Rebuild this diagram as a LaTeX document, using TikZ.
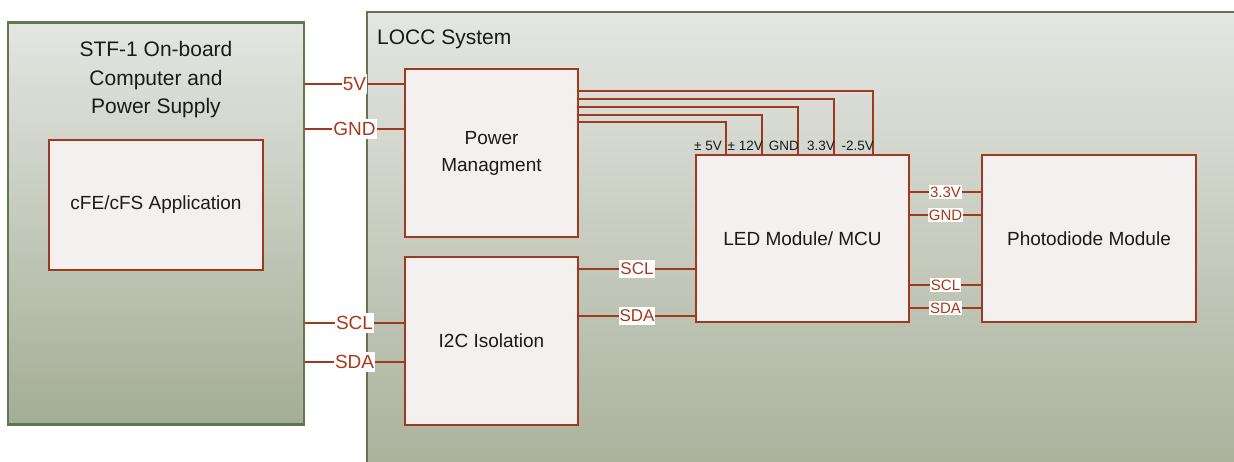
\documentclass[tikz,border=0pt]{standalone}
\usepackage{fontspec}
\setmainfont{Liberation Sans}
\definecolor{redl}{HTML}{9E3A20}
\definecolor{redt}{HTML}{A83A1C}
\definecolor{greenb}{HTML}{627650}
\definecolor{boxfill}{HTML}{F4F0F0}
\definecolor{gtop}{HTML}{E4E6E2}
\definecolor{gbot}{HTML}{A4AD95}
\definecolor{txt}{HTML}{1A1A1A}
\tikzset{
  group/.style={draw=greenb, line width=2.4pt, top color=gtop, bottom color=gbot, inner sep=0pt},
  block/.style={draw=redl, line width=2.2pt, fill=boxfill, align=center, inner sep=0pt,
     text=txt, font=\fontsize{19}{27}\selectfont},
  wire/.style={draw=redl, line width=2pt},
  lbl/.style={fill=white, text=redt, inner xsep=1pt, inner ysep=3pt, font=\fontsize{19}{21}\selectfont},
  lblm/.style={fill=white, text=redt, inner xsep=1pt, inner ysep=3pt, font=\fontsize{17}{19}\selectfont},
  lbls/.style={fill=white, text=redt, inner xsep=1pt, inner ysep=2pt, font=\fontsize{15}{17}\selectfont},
  toplbl/.style={text=txt, inner sep=0pt, anchor=base east, font=\fontsize{13.5}{15}\selectfont},
}
\begin{document}
\begin{tikzpicture}[x=1pt,y=-1pt]
\useasboundingbox (0,0) rectangle (1234,462);
\clip (0,0) rectangle (1234,462);
\fill[white] (0,0) rectangle (1234,462);
% outer groups
\node[group, minimum width=296pt, minimum height=402pt] (stf) at (156,223.5) {};
\node[group, anchor=north west, minimum width=900pt, minimum height=500pt] (locc) at (366,11) {};
\node[text=txt, anchor=base west, font=\fontsize{21}{24}\selectfont, inner sep=0pt] (locct) at (377,45) {LOCC System};
\node[text=txt, align=center, font=\fontsize{21}{28.5}\selectfont, inner sep=0pt] (stft) at (156,80) {STF-1 On-board\\Computer and\\Power Supply};
% blocks
\node[block, minimum width=214pt, minimum height=130pt] (cfe) at (156,205) {cFE/cFS Application};
\node[block, minimum width=173pt, minimum height=168pt] (pm) at (491.5,153) {Power\\Managment};
\node[block, minimum width=173pt, minimum height=168pt] (i2c) at (491.5,341) {I2C Isolation};
\node[block, minimum width=213pt, minimum height=167pt] (led) at (802.5,238.5) {LED Module/ MCU};
\node[block, minimum width=214pt, minimum height=167pt] (pd) at (1089,238.5) {Photodiode Module};
% left connections
\coordinate (a5v) at ([yshift=-16pt]pm.north west);
\coordinate (agnd) at ([yshift=-61pt]pm.north west);
\coordinate (ascl) at ([yshift=-67pt]i2c.north west);
\coordinate (asda) at ([yshift=-106pt]i2c.north west);
\draw[wire] (a5v -| stf.east) -- (a5v) node[lbl, pos=0.5] (l5v) {5V};
\draw[wire] (agnd -| stf.east) -- (agnd) node[lbl, pos=0.5] (lgnd) {GND};
\draw[wire] (ascl -| stf.east) -- (ascl) node[lbl, pos=0.5] (lscl) {SCL};
\draw[wire] (asda -| stf.east) -- (asda) node[lbl, pos=0.5] (lsda) {SDA};
% middle I2C
\coordinate (bscl) at ([yshift=-13pt]i2c.north east);
\coordinate (bsda) at ([yshift=-60pt]i2c.north east);
\draw[wire] (bscl) -- (bscl -| led.west) node[lblm, pos=0.5] (mscl) {SCL};
\draw[wire] (bsda) -- (bsda -| led.west) node[lblm, pos=0.5] (msda) {SDA};
% right connections
\coordinate (c33) at ([yshift=-38pt]led.north east);
\coordinate (cgnd) at ([yshift=-61pt]led.north east);
\coordinate (cscl) at ([yshift=-131pt]led.north east);
\coordinate (csda) at ([yshift=-154pt]led.north east);
\draw[wire] (c33) -- (c33 -| pd.west) node[lbls, pos=0.5] (r33) {3.3V};
\draw[wire] (cgnd) -- (cgnd -| pd.west) node[lbls, pos=0.5] (rgnd) {GND};
\draw[wire] (cscl) -- (cscl -| pd.west) node[lbls, pos=0.5] (rscl) {SCL};
\draw[wire] (csda) -- (csda -| pd.west) node[lbls, pos=0.5] (rsda) {SDA};
% power rails
\draw[wire] ([yshift=-23pt]pm.north east) -| ([xshift=178pt]led.north west);
\draw[wire] ([yshift=-31pt]pm.north east) -| ([xshift=139pt]led.north west);
\draw[wire] ([yshift=-39pt]pm.north east) -| ([xshift=103pt]led.north west);
\draw[wire] ([yshift=-47pt]pm.north east) -| ([xshift=67pt]led.north west);
\draw[wire] ([yshift=-54pt]pm.north east) -| ([xshift=31pt]led.north west);
\node[toplbl] (t1) at ([xshift=-5pt, yshift=3pt]led.north west -| 727,0) {± 5V};
\node[toplbl] (t2) at ([yshift=3pt]led.north west -| 763,0) {± 12V};
\node[toplbl] (t3) at ([yshift=3pt]led.north west -| 799,0) {GND};
\node[toplbl] (t4) at ([yshift=3pt]led.north west -| 835,0) {3.3V};
\node[toplbl] (t5) at ([yshift=3pt]led.north west -| 874,0) {-2.5V};
\end{tikzpicture}
\end{document}
